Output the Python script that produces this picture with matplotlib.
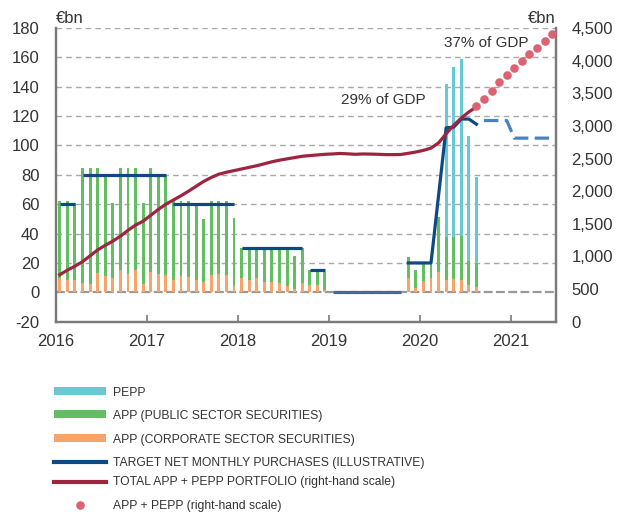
import numpy as np
import pandas as pd
import matplotlib
matplotlib.use("Agg")
import matplotlib.pyplot as plt
from matplotlib.ticker import FuncFormatter

plt.rcParams["font.family"] = ["Liberation Sans", "DejaVu Sans"]
plt.rcParams["axes.unicode_minus"] = False

# ---------------- data (monthly, Jan 2016 - Aug 2020) ----------------
months = pd.date_range("2016-01-01", "2020-08-01", freq="MS")

# top of the APP bars (corporate + public), EUR bn
app_total = [62, 62, 61, 85, 85, 85, 80, 61, 85, 85, 85, 61,
             85, 80, 80, 62, 62, 62, 60.5, 50, 62, 62, 62, 50.4,
             30.3, 30, 30.5, 30, 31, 30, 30, 25, 30, 15, 15, 14,
             0, 0, 0, 0, 0, 0, 0, 0, 0, 0, 24, 15.5,
             20, 20, 51, 38, 38, 38.5, 21, 20]
corporate = [9.6, 8.5, 8.5, 6.4, 5.7, 13.2, 10.9, 10, 15.3, 12.5, 15.5, 5.5,
             14, 12.3, 11.5, 8.5, 11.2, 10.7, 8.7, 7, 11.7, 12.3, 11.7, 4.3,
             9.6, 8.5, 10, 7.3, 7.3, 6.1, 4.6, 2.3, 6.6, 5, 5, 1.6,
             0, 0, 0, 0, 0, 0, 0, 0, 0, 0, 10, 3,
             8, 9.6, 14, 8.7, 9.4, 8.7, 5, 3.8]
# top of the PEPP bars (stacked total)
pepp_total = [0] * 51 + [141.7, 153.7, 158.7, 106.6, 78.5]

# target net monthly purchases (illustrative), one list per regime
target_segments = [
    ("2016-01", "2016-03", 60), ("2016-04", "2017-03", 80),
    ("2017-04", "2017-12", 60), ("2018-01", "2018-09", 30),
    ("2018-10", "2018-12", 15),
]
target_2019 = ("2019-01", "2019-10", 0)
target_2020_months = ["2019-11", "2019-12", "2020-01", "2020-02", "2020-03",
                      "2020-04", "2020-05", "2020-06", "2020-07", "2020-08"]
target_2020 = [20, 20, 20, 20, 66, 112, 112.5, 118, 118, 114.5]
proj_months = ["2020-09", "2020-10", "2020-11", "2020-12", "2021-01",
               "2021-02", "2021-03", "2021-04", "2021-05", "2021-06"]
proj_target = [117, 117, 117, 117, 105, 105, 105, 105, 105, 105]

# total APP + PEPP portfolio (right-hand scale)
portfolio = [720, 790, 850, 920, 1010, 1100, 1170, 1235, 1310, 1400, 1480, 1540,
             1630, 1720, 1800, 1865, 1930, 2000, 2075, 2150, 2210, 2260, 2290, 2315,
             2340, 2365, 2390, 2420, 2450, 2475, 2495, 2515, 2535, 2545, 2555, 2565,
             2570, 2578, 2572, 2565, 2570, 2568, 2565, 2560, 2560, 2562, 2580, 2600,
             2625, 2660, 2740, 2880, 3010, 3120, 3215, 3290]
dot_months = ["2020-08", "2020-09", "2020-10", "2020-11", "2020-12", "2021-01",
              "2021-02", "2021-03", "2021-04", "2021-05", "2021-06"]
dot_values = [3310, 3415, 3540, 3665, 3780, 3885, 4000, 4105, 4200, 4305, 4410]


def yr(m):
    """month -> fractional year at mid-month"""
    t = pd.Timestamp(m)
    return t.year + (t.month - 0.5) / 12


x = np.array([yr(m) for m in months])
app_total = np.array(app_total)
corporate = np.array(corporate)
pepp_total = np.array(pepp_total)
public = app_total - corporate
pepp = np.where(pepp_total > 0, pepp_total - app_total, 0)

# ---------------- colours ----------------
c_pepp = "#67cad3"
c_pub = "#63bd63"
c_corp = "#f9a366"
c_target = "#0d4a85"
c_target_proj = "#4a80c6"
c_total = "#9e2440"
c_dots = "#dc6472"
c_grid = "#a8a8a8"
c_spine = "#7a7a7a"
c_text = "#333333"

fig = plt.figure(figsize=(6.27, 5.16), dpi=100)
ax = fig.add_axes([56 / 627, 194.3 / 516, 500 / 627, 293.7 / 516])
ax2 = ax.twinx()

# bars
bw = 0.032
ax.bar(x, corporate, width=bw, color=c_corp, zorder=2)
ax.bar(x, public, width=bw, bottom=corporate, color=c_pub, zorder=2)
ax.bar(x, pepp, width=bw, bottom=app_total, color=c_pepp, zorder=2)

# target purchases
for a, b, v in target_segments:
    ax.plot([yr(a), yr(b)], [v, v], color=c_target, lw=2.3, solid_capstyle="butt", zorder=3)
ax.plot([yr(target_2019[0]), yr(target_2019[1])], [target_2019[2]] * 2,
        color="#3d6c9c", lw=2.3, solid_capstyle="butt", zorder=3)
ax.plot([yr(m) for m in target_2020_months], target_2020, color=c_target, lw=2.3, zorder=3)
ax.plot([yr(m) for m in proj_months], proj_target, color=c_target_proj, lw=2.3,
        dashes=(4.5, 2), zorder=3)

# portfolio line and projected dots (right-hand scale)
ax2.plot(x, portfolio, color=c_total, lw=2.3, zorder=4)
ax2.plot([yr(m) for m in dot_months], dot_values, "o", color=c_dots, ms=6.2,
         mec="none", zorder=5)

# axes
ax.set_xlim(2016, 2021.5)
ax.set_ylim(-20, 180)
ax2.set_ylim(0, 4500)
ax.set_yticks(np.arange(-20, 181, 20))
ax2.set_yticks(np.arange(0, 4501, 500))
ax2.yaxis.set_major_formatter(FuncFormatter(lambda v, p: f"{int(v):,}"))
ax.set_xticks(range(2016, 2022))

for g in range(20, 181, 20):
    ax.axhline(g, color=c_grid, lw=1, dashes=(4, 3), zorder=1)
ax.axhline(0, color="#999999", lw=1.6, dashes=(4, 1.5), zorder=1)

for a in (ax, ax2):
    a.spines["top"].set_visible(False)
    for s in ("left", "right", "bottom"):
        a.spines[s].set_color(c_spine)
        a.spines[s].set_linewidth(1.6)
ax.tick_params(axis="y", length=0, pad=12, labelsize=12, labelcolor=c_text)
ax2.tick_params(axis="y", length=0, pad=11, labelsize=12, labelcolor=c_text)
ax.tick_params(axis="x", direction="in", length=5, width=1.2, color=c_spine,
               pad=9, labelsize=12, labelcolor=c_text)

ax.text(0, 1.008, "€bn", transform=ax.transAxes, fontsize=12, color=c_text,
        ha="left", va="bottom")
ax.text(1, 1.008, "€bn", transform=ax.transAxes, fontsize=12, color=c_text,
        ha="right", va="bottom")

ax.text(2019.14, 131, "29% of GDP", fontsize=11, color=c_text, va="center")
ax.text(2020.27, 169.7, "37% of GDP", fontsize=11, color=c_text, va="center")

# ---------------- legend (drawn in pixel space below the chart) ----------------
lax = fig.add_axes([0, 0, 1, 1], zorder=-1)
lax.set_xlim(0, 627)
lax.set_ylim(516, 0)
lax.axis("off")

items = [
    ("PEPP", "patch", c_pepp, 391.5),
    ("APP (PUBLIC SECTOR SECURITIES)", "patch", c_pub, 415),
    ("APP (CORPORATE SECTOR SECURITIES)", "patch", c_corp, 439),
    ("TARGET NET MONTHLY PURCHASES (ILLUSTRATIVE)", "line", c_target, 462),
    ("TOTAL APP + PEPP PORTFOLIO (right-hand scale)", "line", c_total, 481.5),
    ("APP + PEPP (right-hand scale)", "dot", c_dots, 505),
]
for label, kind, col, yy in items:
    if kind == "patch":
        lax.add_patch(plt.Rectangle((54, yy - 5), 52, 8, color=col, lw=0))
    elif kind == "line":
        lax.plot([54, 106], [yy, yy], color=col, lw=3)
    else:
        lax.plot([80], [yy], "o", color=col, ms=6.2, mec="none")
    lax.text(113, yy + 1, label, fontsize=8.7, color=c_text, va="center")

fig.savefig("out.png", dpi=100)
